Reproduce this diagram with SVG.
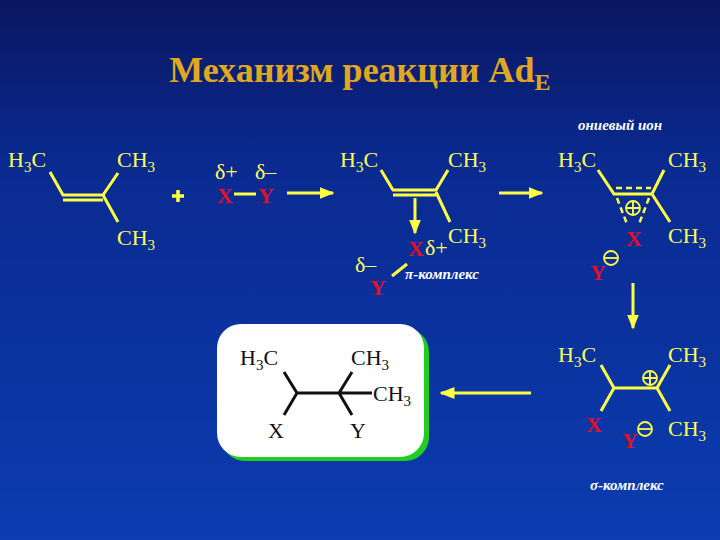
<svg xmlns="http://www.w3.org/2000/svg" width="720" height="540" viewBox="0 0 720 540">
<defs>
<linearGradient id="bg" x1="0" y1="0" x2="0" y2="1"><stop offset="0" stop-color="#0a1660"/><stop offset="0.3" stop-color="#0a2a90"/><stop offset="1" stop-color="#0b3cb0"/></linearGradient>
<marker id="ah" viewBox="0 0 10 10" refX="9" refY="5" markerWidth="5" markerHeight="5" orient="auto"><path d="M0,1 L10,5 L0,9 z" fill="#ffff44"/></marker>
</defs>
<style>
.title{font-family:"Liberation Serif",serif;font-size:36px;font-weight:bold;fill:#e0a820}
.t{font-family:"Liberation Serif",serif;font-size:22px;fill:#ffff55}
.b{font-family:"Liberation Serif",serif;font-size:22px;fill:#111}
.r{font-family:"Liberation Serif",serif;font-size:22px;font-weight:bold;fill:#e0102a}
.w{font-family:"Liberation Serif",serif;font-size:15px;font-style:italic;font-weight:bold;fill:#ffffff}
.ln{stroke:#ffff44;stroke-width:3;fill:none}
.bl{stroke:#111;stroke-width:3;fill:none}
.ar{stroke:#ffff44;stroke-width:3;fill:none;marker-end:url(#ah)}
.ds{stroke:#ffff44;stroke-width:2.5;fill:none;stroke-dasharray:6,4}
</style>
<rect width="720" height="540" fill="url(#bg)"/>
<text class="title" x="360" y="82" text-anchor="middle">Механизм реакции Ad<tspan font-size="24" dy="8">E</tspan></text>

<g id="alkene">
<text class="t" x="8" y="167">H<tspan font-size="15" dy="5">3</tspan><tspan dy="-5">C</tspan></text>
<text class="t" x="117" y="167">CH<tspan font-size="15" dy="5">3</tspan></text>
<text class="t" x="117" y="245">CH<tspan font-size="15" dy="5">3</tspan></text>
<path class="ln" d="M50,172 L63,195 L103,195 L118,173 M103,195 L118,222 M63,200 L103,200"/>
</g>
<g id="plus"><path d="M172,196 h12 M178,190 v12" stroke="#ffff44" stroke-width="3.5"/></g>
<g id="xy">
<text class="t" x="215" y="179">δ+</text><text class="t" x="255" y="179">δ–</text>
<text class="r" x="217" y="203">X</text><text class="r" x="258" y="203">Y</text>
<path class="ln" d="M234,194 L256,194" stroke-width="2"/>
</g>
<g id="pi">
<text class="t" x="340" y="167">H<tspan font-size="15" dy="5">3</tspan><tspan dy="-5">C</tspan></text>
<text class="t" x="448" y="167">CH<tspan font-size="15" dy="5">3</tspan></text>
<text class="t" x="448" y="243">CH<tspan font-size="15" dy="5">3</tspan></text>
<path class="ln" d="M381,170 L393,190 L436,190 L448,170 M436,192 L450,222 M393,195 L436,195"/>
<text class="r" x="408" y="256">X</text><text class="t" x="425" y="255">δ+</text>
<text class="t" x="355" y="272">δ–</text><text class="r" x="370" y="295">Y</text>
<path class="ln" d="M392,276 L407,264" stroke-width="2"/>
<text class="w" x="405" y="279">π-комплекс</text>
</g>
<g id="onium">
<text class="w" x="578" y="130">ониевый ион</text>
<text class="t" x="558" y="167">H<tspan font-size="15" dy="5">3</tspan><tspan dy="-5">C</tspan></text>
<text class="t" x="668" y="167">CH<tspan font-size="15" dy="5">3</tspan></text>
<text class="t" x="668" y="243">CH<tspan font-size="15" dy="5">3</tspan></text>
<path class="ln" d="M598,170 L614,194 L652,194 L664,170 M652,194 L670,222"/>
<path class="ds" d="M616,188 L651,188 M617,198 L627,224 M649,198 L639,224"/>
<circle cx="633" cy="208" r="7" fill="none" stroke="#ffff44" stroke-width="1.8"/><path d="M626,208 h14 M633,201 v14" stroke="#ffff44" stroke-width="1.8"/>
<text class="r" x="626" y="246">X</text>
<text class="r" x="590" y="280">Y</text>
<circle cx="611" cy="258" r="7" fill="none" stroke="#ffff44" stroke-width="1.8"/><path d="M604,258 h14" stroke="#ffff44" stroke-width="1.8"/>
</g>
<g id="sigma">
<text class="t" x="558" y="362">H<tspan font-size="15" dy="5">3</tspan><tspan dy="-5">C</tspan></text>
<text class="t" x="668" y="362">CH<tspan font-size="15" dy="5">3</tspan></text>
<text class="t" x="668" y="436">CH<tspan font-size="15" dy="5">3</tspan></text>
<path class="ln" d="M601,365 L614,388 L657,388 L670,365 M614,388 L601,411 M657,388 L670,411"/>
<circle cx="650" cy="378" r="7" fill="none" stroke="#ffff44" stroke-width="1.8"/><path d="M643,378 h14 M650,371 v14" stroke="#ffff44" stroke-width="1.8"/>
<text class="r" x="586" y="432">X</text>
<text class="r" x="622" y="448">Y</text>
<circle cx="645" cy="429" r="7" fill="none" stroke="#ffff44" stroke-width="1.8"/><path d="M638,429 h14" stroke="#ffff44" stroke-width="1.8"/>
<text class="w" x="590" y="490">σ-комплекс</text>
</g>
<g id="product">
<rect x="221" y="328" width="208" height="133" rx="24" fill="#22cc22"/>
<rect x="217" y="324" width="207" height="133" rx="24" fill="#ffffff"/>
<text class="b" x="240" y="365">H<tspan font-size="15" dy="5">3</tspan><tspan dy="-5">C</tspan></text>
<text class="b" x="351" y="365">CH<tspan font-size="15" dy="5">3</tspan></text>
<text class="b" x="373" y="401">CH<tspan font-size="15" dy="5">3</tspan></text>
<text class="b" x="268" y="438">X</text>
<text class="b" x="350" y="438">Y</text>
<path class="bl" d="M284,372 L297,393 L339,393 L352,372 M339,393 L372,393 M297,393 L284,415 M339,393 L352,415"/>
</g>
<g id="connectors">
<path class="ar" d="M287,193 L333,193"/>
<path class="ar" d="M415,198 L415,233"/>
<path class="ar" d="M499,193 L542,193"/>
<path class="ar" d="M633,283 L633,328"/>
<path class="ar" d="M531,393 L441,393"/>
</g>
</svg>
